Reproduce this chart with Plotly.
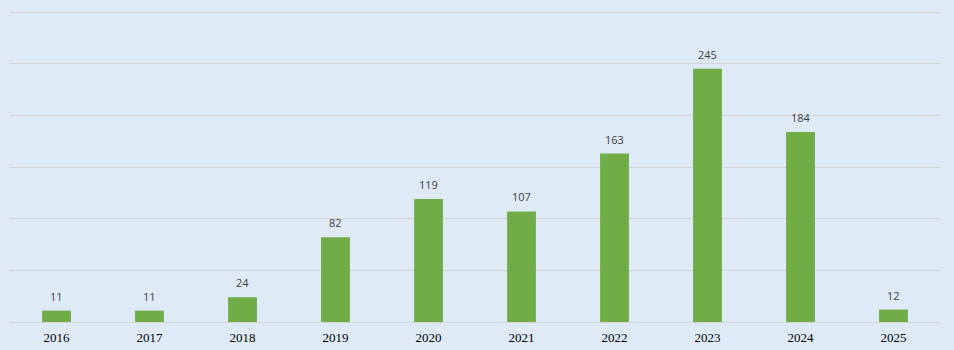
import plotly.graph_objects as go

years = ["2016", "2017", "2018", "2019", "2020", "2021", "2022", "2023", "2024", "2025"]
counts = [11, 11, 24, 82, 119, 107, 163, 245, 184, 12]

fig = go.Figure(go.Bar(
    x=years, y=counts,
    marker=dict(color="#70ad47", line=dict(width=0)),
    hoverinfo="x+y",
))
for i, v in enumerate(counts):
    fig.add_annotation(
        x=i, y=v, xref="x", yref="y", text=str(v), showarrow=False, yanchor="bottom", yshift=5,
        font=dict(family="Open Sans, Liberation Sans, sans-serif", size=11, color="#404040"),
    )
fig.update_layout(
    width=954, height=350,
    margin=dict(l=10, r=14, t=11, b=28),
    paper_bgcolor="#deeaf6", plot_bgcolor="#deeaf6",
    bargap=0.69, showlegend=False,
    xaxis=dict(type="category", categoryorder="array", categoryarray=years, automargin=False,
               showgrid=False, showline=True, linecolor="#d4d4d4", linewidth=1,
               ticklabelstandoff=3,
               tickfont=dict(family="Liberation Serif, serif", size=13, color="#000000"), ticks=""),
    yaxis=dict(range=[0, 301], tickvals=[50, 100, 150, 200, 250, 300], showgrid=True, automargin=False,
               gridcolor="#d4d4d4", gridwidth=1, showticklabels=False, zeroline=False),
)
fig.write_html("out.html")
